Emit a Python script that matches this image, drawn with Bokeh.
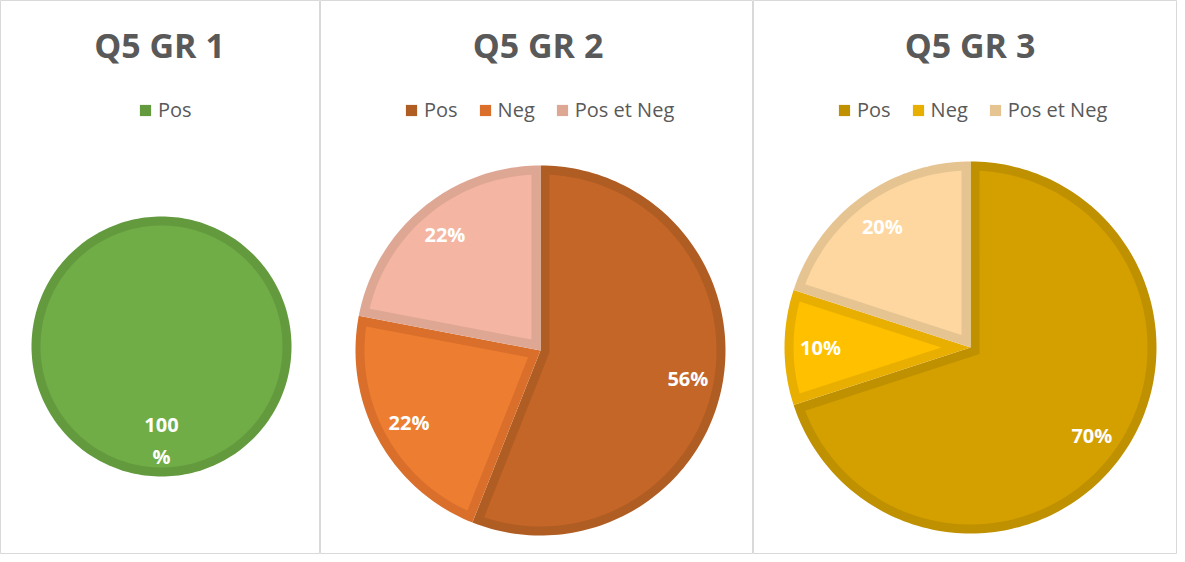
import math
from bokeh.plotting import figure
from bokeh.layouts import row
from bokeh.models import Range1d, Legend, LegendItem, ColumnDataSource, Label
from bokeh.embed import file_html
from bokeh.resources import INLINE
from bokeh.core.properties import value

# ---------------- data ----------------
titles = ["Q5 GR 1", "Q5 GR 2", "Q5 GR 3"]

gr1_categories = ["Pos"]
gr1_values = [100]
gr1_labels = ["100\n%"]

gr2_categories = ["Pos", "Neg", "Pos et Neg"]
gr2_values = [56, 22, 22]
gr2_labels = ["56%", "22%", "22%"]

gr3_categories = ["Pos", "Neg", "Pos et Neg"]
gr3_values = [70, 10, 20]
gr3_labels = ["70%", "10%", "20%"]

# ---------------- styles ----------------
gr1_fill = ["#70ad47"]
gr1_edge = ["#639a3e"]
gr2_fill = ["#c46628", "#ed7d31", "#f4b5a2"]
gr2_edge = ["#b05d24", "#d96f2b", "#dea794"]
gr3_fill = ["#d4a000", "#ffc000", "#fed7a0"]
gr3_edge = ["#bf9000", "#e8ae00", "#e6c491"]

H = 554
TEXT = "#595959"
FONT = "Open Sans"
BORDER = 9


def pt(cx, cy, r, phi):
    return cx + r * math.sin(phi), cy + r * math.cos(phi)


def arc(cx, cy, r, a0, a1):
    n = max(8, int(abs(a1 - a0) / (2 * math.pi) * 240))
    xs, ys = [], []
    for i in range(n + 1):
        a = a0 + (a1 - a0) * i / n
        x, y = pt(cx, cy, r, a)
        xs.append(x)
        ys.append(y)
    return xs, ys


def slice_outer(cx, cy, R, a0, a1):
    if a1 - a0 >= 2 * math.pi - 1e-9:
        return arc(cx, cy, R, 0, 2 * math.pi)
    xs, ys = arc(cx, cy, R, a0, a1)
    return [cx] + xs, [cy] + ys


def slice_inner(cx, cy, R, d, a0, a1):
    th = a1 - a0
    ri = R - d
    if th >= 2 * math.pi - 1e-9:
        return arc(cx, cy, ri, 0, 2 * math.pi)
    m = (a0 + a1) / 2
    k = d / math.sin(th / 2)
    vx, vy = cx + k * math.sin(m), cy + k * math.cos(m)

    def hit(a):
        ux, uy = math.sin(a), math.cos(a)
        wx, wy = vx - cx, vy - cy
        b = wx * ux + wy * uy
        c = wx * wx + wy * wy - ri * ri
        t = -b + math.sqrt(b * b - c)
        hx, hy = vx + t * ux, vy + t * uy
        return math.atan2(hx - cx, hy - cy)

    p0, p1 = hit(a0), hit(a1)
    while p0 < a0 - math.pi:
        p0 += 2 * math.pi
    while p0 > a0 + math.pi:
        p0 -= 2 * math.pi
    while p1 < a1 - math.pi:
        p1 += 2 * math.pi
    while p1 > a1 + math.pi:
        p1 -= 2 * math.pi
    xs, ys = arc(cx, cy, ri, p0, p1)
    return [vx] + xs, [vy] + ys


def make_panel(title, cats, vals, labels, fills, edges, W, cx, cy_top, R, label_r,
               title_x, legend_x):
    p = figure(frame_width=W, frame_height=H, x_range=Range1d(0, W), y_range=Range1d(0, H),
               output_backend="svg", toolbar_location=None, min_border=0,
               x_axis_location=None, y_axis_location=None)
    p.grid.visible = False
    p.outline_line_color = "#d9d9d9"
    p.outline_line_width = 1
    p.background_fill_color = "white"
    p.border_fill_color = "white"

    cy = H - cy_top
    total = float(sum(vals))
    items = []
    start = 0.0
    lx, ly = [], []
    for cat, v, f, e in zip(cats, vals, fills, edges):
        a0 = start / total * 2 * math.pi
        a1 = (start + v) / total * 2 * math.pi
        start += v
        ox, oy = slice_outer(cx, cy, R, a0, a1)
        ix, iy = slice_inner(cx, cy, R, BORDER, a0, a1)
        r_out = p.patch(x=ox, y=oy, fill_color=e, line_color=None)
        p.patch(x=ix, y=iy, fill_color=f, line_color=None)
        items.append(LegendItem(label=cat, renderers=[r_out]))
        mid = (a0 + a1) / 2
        x, y = pt(cx, cy, label_r, mid)
        lx.append(x)
        ly.append(y)

    src = ColumnDataSource(dict(x=lx, y=ly, text=labels))
    p.text(x="x", y="y", text="text", source=src, text_color="white",
           text_font=value(FONT), text_font_style="bold", text_font_size="20px",
           text_align="center", text_baseline="middle", text_line_height=1.2)

    p.add_layout(Label(x=title_x, y=H - 44, text=title, text_font=FONT, text_font_style="bold",
                       text_font_size="34px", text_color=TEXT, text_align="center",
                       text_baseline="alphabetic"))

    legend = Legend(items=items, location=(legend_x, H - 123), orientation="horizontal",
                    label_text_font=FONT, label_text_font_size="20px", label_text_color=TEXT,
                    glyph_width=14, glyph_height=14, label_standoff=6, spacing=20,
                    padding=0, margin=0, border_line_color=None, background_fill_alpha=0)
    p.add_layout(legend)
    return p


p1 = make_panel(titles[0], gr1_categories, gr1_values, gr1_labels, gr1_fill, gr1_edge,
                320, 161, 346, 130, 94, 159, 138)
p2 = make_panel(titles[1], gr2_categories, gr2_values, gr2_labels, gr2_fill, gr2_edge,
                433, 220, 350, 185, 150, 217.5, 84)
p3 = make_panel(titles[2], gr3_categories, gr3_values, gr3_labels, gr3_fill, gr3_edge,
                424, 217, 347, 186, 150, 216.5, 84)

layout = row(p1, p2, p3, spacing=0)
open("out.html", "w").write(file_html(layout, INLINE))
